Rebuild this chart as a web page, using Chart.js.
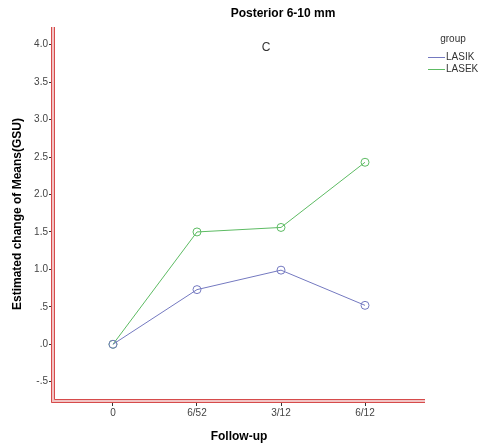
<!DOCTYPE html>
<html>
<head>
<meta charset="utf-8">
<script src="https://cdn.jsdelivr.net/npm/chart.js@4/dist/chart.umd.min.js"></script>
<style>
  html, body { margin: 0; padding: 0; background: #fff; }
  #wrap { width: 479px; height: 447px; position: relative; }
</style>
</head>
<body>
<div id="wrap"><canvas id="c"></canvas></div>
<script>
// follow-up points and estimated change of means (GSU)
const followUp = ['0', '6/52', '3/12', '6/12'];
const lasik = [0, 0.73, 0.99, 0.52];
const lasek = [0, 1.50, 1.56, 2.43];
const yTicks = [-0.5, 0, 0.5, 1.0, 1.5, 2.0, 2.5, 3.0, 3.5, 4.0];

const FONT = '"Liberation Sans", Arial, sans-serif';
const blue = '#7479c0';
const green = '#5dbb63';

function yLabel(v) {
    if (v === 0) return '.0';
    if (v === 0.5) return '.5';
    if (v === -0.5) return '-.5';
    return v.toFixed(1);
}

// double red axis lines + title, panel letter and legend
const decorPlugin = {
    id: 'decor',
    afterDraw(chart) {
        const ctx = chart.ctx;
        const a = chart.chartArea;
        ctx.save();
        // y axis band
        ctx.fillStyle = '#f2c4c4';
        ctx.fillRect(a.left - 2, a.top, 4, a.bottom - a.top + 2);
        ctx.fillRect(a.left - 2, a.bottom - 2, a.right - a.left + 2, 4);
        ctx.strokeStyle = '#d64b4b';
        ctx.lineWidth = 1;
        ctx.beginPath();
        ctx.moveTo(a.left - 1.5, a.top); ctx.lineTo(a.left - 1.5, a.bottom + 1.5);
        ctx.lineTo(a.right, a.bottom + 1.5);
        ctx.moveTo(a.left + 1.5, a.top); ctx.lineTo(a.left + 1.5, a.bottom - 1.5);
        ctx.lineTo(a.right, a.bottom - 1.5);
        ctx.stroke();

        ctx.fillStyle = '#000';
        ctx.textAlign = 'center';
        ctx.textBaseline = 'middle';
        ctx.font = 'bold 12px ' + FONT;
        ctx.fillText('Posterior 6-10 mm', 283, 14);
        ctx.font = '12px ' + FONT;
        ctx.fillStyle = '#333';
        ctx.fillText('C', 266, 48);

        // legend
        ctx.font = '10px ' + FONT;
        ctx.fillStyle = '#333';
        ctx.fillText('group', 453, 39);
        ctx.textAlign = 'left';
        const items = chart.data.datasets;
        items.forEach((ds, i) => {
            const y = 57 + i * 12;
            ctx.strokeStyle = ds.borderColor;
            ctx.beginPath();
            ctx.moveTo(428, y + 0.5); ctx.lineTo(445, y + 0.5);
            ctx.stroke();
            ctx.fillStyle = '#333';
            ctx.fillText(ds.label, 446, y);
        });
        ctx.restore();
    }
};

new Chart(document.getElementById('c'), {
    type: 'line',
    data: {
        datasets: [
            {
                label: 'LASIK',
                data: lasik.map((v, i) => ({ x: i, y: v })),
                borderColor: blue, borderWidth: 1,
                pointRadius: 4, pointBorderWidth: 1,
                pointBackgroundColor: 'rgba(255,255,255,0)', pointBorderColor: blue,
                tension: 0, clip: false
            },
            {
                label: 'LASEK',
                data: lasek.map((v, i) => ({ x: i, y: v })),
                borderColor: green, borderWidth: 1,
                pointRadius: 4, pointBorderWidth: 1,
                pointBackgroundColor: 'rgba(255,255,255,0)', pointBorderColor: green,
                tension: 0, clip: false
            }
        ]
    },
    options: {
        responsive: true, maintainAspectRatio: false, animation: false,
        layout: { padding: { top: 27, right: 54, left: 0, bottom: 0 } },
        plugins: { legend: { display: false }, tooltip: { enabled: false } },
        scales: {
            x: {
                type: 'linear', min: -0.714, max: 3.714,
                afterBuildTicks: s => { s.ticks = followUp.map((_, i) => ({ value: i })); },
                afterFit: s => { s.height = 46; },
                border: { display: false },
                grid: { drawOnChartArea: false, drawTicks: true, tickLength: 5, color: '#333' },
                ticks: { color: '#444', font: { family: FONT, size: 10 }, padding: 1,
                         callback: v => followUp[v] ?? '' },
                title: { display: true, text: 'Follow-up', color: '#000',
                         font: { family: FONT, size: 12, weight: 'bold' }, padding: { top: 0, bottom: 3 } }
            },
            y: {
                min: -0.757, max: 4.236,
                afterBuildTicks: s => { s.ticks = yTicks.map(v => ({ value: v })); },
                afterFit: s => { s.width = 53; },
                border: { display: false },
                grid: { drawOnChartArea: false, drawTicks: true, tickLength: 4, color: '#333' },
                ticks: { color: '#444', font: { family: FONT, size: 10 }, padding: 1,
                         callback: v => yLabel(v) },
                title: { display: true, text: 'Estimated change of Means(GSU)', color: '#000',
                         font: { family: FONT, size: 12, weight: 'bold' }, padding: { top: 10, bottom: 0 } }
            }
        }
    },
    plugins: [decorPlugin]
});
</script>
</body>
</html>
